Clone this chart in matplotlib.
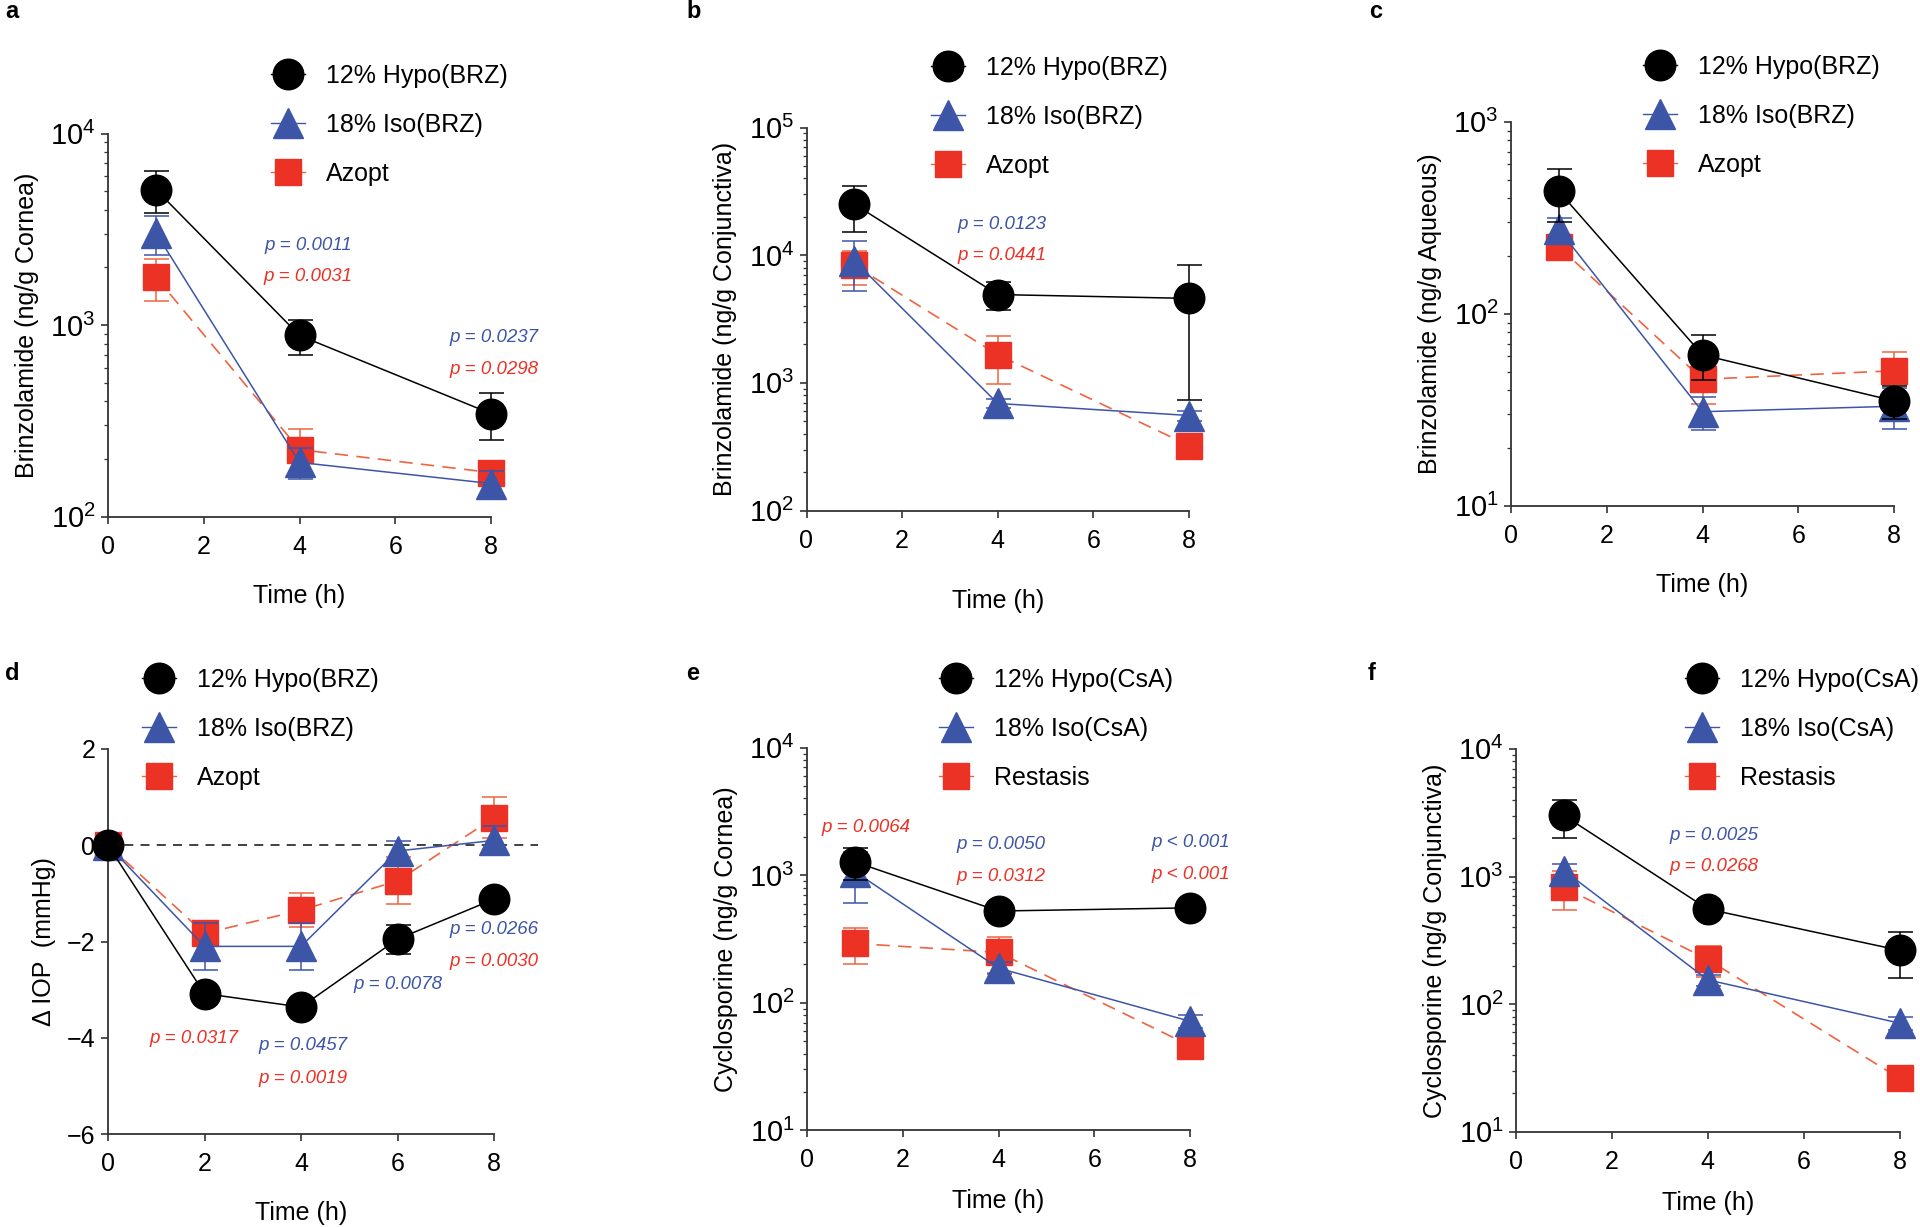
import matplotlib
matplotlib.use("Agg")
import matplotlib.pyplot as plt
from matplotlib.lines import Line2D

plt.rcParams['font.family'] = ['Liberation Sans', 'DejaVu Sans']
plt.rcParams['mathtext.fontset'] = 'custom'
plt.rcParams['mathtext.rm'] = 'Liberation Sans'

# ---- data ----
t3 = [1, 4, 8]
t5 = [0, 2, 4, 6, 8]

# a: cornea, brinzolamide
a_hypo = [5100, 883, 345];    a_hypo_err = [1250, 185, 95]
a_iso = [3030, 192, 149];     a_iso_err = [700, 35, 25]
a_azopt = [1780, 224, 170];   a_azopt_err = [440, 62, 20]

# b: conjunctiva, brinzolamide
b_hypo = [25100, 4920, 4590]; b_hypo_err = [10000, 1230, 3860]
b_iso = [9060, 690, 555];     b_iso_err = [3800, 60, 50]
b_azopt = [8330, 1660, 323];  b_azopt_err = [2500, 680, 30]

# c: aqueous, brinzolamide
c_hypo = [434, 61.1, 35.2];   c_hypo_err = [135, 16, 7]
c_iso = [275, 30.9, 33];      c_iso_err = [40, 6, 8]
c_azopt = [223, 45.6, 50.5];  c_azopt_err = [33, 11.6, 12.5]

# d: delta IOP
d_hypo = [0, -3.08, -3.36, -1.95, -1.12];  d_hypo_err = [0, 0.1, 0.1, 0.3, 0.1]
d_iso = [0, -2.10, -2.10, -0.12, 0.10];    d_iso_err = [0, 0.49, 0.49, 0.2, 0.3]
d_azopt = [0, -1.83, -1.35, -0.74, 0.57];  d_azopt_err = [0.1, 0.26, 0.35, 0.49, 0.43]

# e: cornea, cyclosporine
e_hypo = [1273, 524, 555];    e_hypo_err = [360, 40, 40]
e_iso = [1066, 187, 71.6];    e_iso_err = [460, 20, 8]
e_rest = [292, 248, 46.1];    e_rest_err = [91, 77, 5]

# f: conjunctiva, cyclosporine
f_hypo = [3010, 556, 264];    f_hypo_err = [990, 50, 104]
f_iso = [1114, 155, 71];      f_iso_err = [150, 15, 8]
f_rest = [822, 224, 26.2];    f_rest_err = [280, 60, 3]

brz_labels = ["12% Hypo(BRZ)", "18% Iso(BRZ)", "Azopt"]
csa_labels = ["12% Hypo(CsA)", "18% Iso(CsA)", "Restasis"]

BLACK = "black"
BLUE = "#3d55a7"
RED = "#ec3225"
RED_LINE = "#ef6440"

W, H = 1920, 1227
fig = plt.figure(figsize=(W / 100, H / 100), dpi=100)


def px_axes(left, top, right, bottom):
    return fig.add_axes([left / W, 1 - bottom / H, (right - left) / W, (bottom - top) / H])


def draw(ax, t, hypo, hypo_err, iso, iso_err, ref, ref_err):
    ax.errorbar(t, ref, yerr=ref_err, color=RED_LINE, ls=(0, (8, 5)), lw=1.2,
                marker='s', ms=19, mfc=RED, mec=RED, ecolor=RED_LINE, elinewidth=1.1,
                capsize=9, capthick=1.1, zorder=3, clip_on=False)
    ax.errorbar(t, iso, yerr=iso_err, color=BLUE, lw=1.1,
                marker='^', ms=21, mfc=BLUE, mec=BLUE, ecolor=BLUE, elinewidth=1.1,
                capsize=9, capthick=1.1, zorder=4, clip_on=False)
    ax.errorbar(t, hypo, yerr=hypo_err, color=BLACK, lw=1.1,
                marker='o', ms=22, mfc=BLACK, mec=BLACK, ecolor=BLACK, elinewidth=1.1,
                capsize=9, capthick=1.1, zorder=5, clip_on=False)


def style(ax, ylabel, log=True, ylim=None, xpad=18):
    for s in ['top', 'right']:
        ax.spines[s].set_visible(False)
    for s in ['left', 'bottom']:
        ax.spines[s].set_linewidth(1.3)
        ax.spines[s].set_color('#333333')
    if log:
        ax.set_yscale('log')
    ax.set_ylim(*ylim)
    ax.set_xlim(0, 8)
    ax.set_xticks([0, 2, 4, 6, 8])
    ax.tick_params(axis='both', which='major', direction='out', length=5, width=1.2,
                   labelsize=18, colors='#333333', labelcolor='black')
    ax.tick_params(axis='x', pad=8)
    ax.tick_params(axis='y', pad=4)
    if log:
        ax.tick_params(axis='y', which='major', labelsize=21)
    ax.tick_params(axis='y', which='minor', length=3, width=0.9, colors='#333333')
    ax.set_xlabel("Time (h)", fontsize=18, labelpad=xpad)
    ax.set_ylabel(ylabel, fontsize=18, labelpad=8)


def legend(ax, labels, x, y):
    handles = [
        Line2D([], [], color=BLACK, lw=1, marker='o', ms=22, mfc=BLACK, mec=BLACK),
        Line2D([], [], color=BLUE, lw=1, marker='^', ms=21, mfc=BLUE, mec=BLUE),
        Line2D([], [], color=RED_LINE, lw=1, marker='s', ms=19, mfc=RED, mec=RED),
    ]
    ax.legend(handles, labels, loc='upper left', bbox_to_anchor=(x / W, 1 - y / H),
              bbox_transform=fig.transFigure, frameon=False, fontsize=18,
              handlelength=1.35, handletextpad=0.85, labelspacing=1.0,
              borderpad=0, borderaxespad=0)


def pval(ax, x, y, text, color):
    ax.text(x, y, text, transform=ax.transAxes, ha='center', va='center',
            fontsize=13.5, style='italic', color=color)


# a
ax = px_axes(108, 133.5, 491, 516.7)
draw(ax, t3, a_hypo, a_hypo_err, a_iso, a_iso_err, a_azopt, a_azopt_err)
style(ax, "Brinzolamide (ng/g Cornea)", ylim=(1e2, 1e4))
legend(ax, brz_labels, 271, 64)
pval(ax, 0.523, 0.709, "p = 0.0011", BLUE)
pval(ax, 0.523, 0.627, "p = 0.0031", RED)
pval(ax, 1.009, 0.467, "p = 0.0237", BLUE)
pval(ax, 1.009, 0.384, "p = 0.0298", RED)

# b
ax = px_axes(806.5, 127.6, 1189, 510.5)
draw(ax, t3, b_hypo, b_hypo_err, b_iso, b_iso_err, b_azopt, b_azopt_err)
style(ax, "Brinzolamide (ng/g Conjunctiva)", ylim=(1e2, 1e5), xpad=26)
legend(ax, brz_labels, 931, 56)
pval(ax, 0.512, 0.747, "p = 0.0123", BLUE)
pval(ax, 0.512, 0.665, "p = 0.0441", RED)

# c
ax = px_axes(1511, 121.8, 1894, 505.8)
draw(ax, t3, c_hypo, c_hypo_err, c_iso, c_iso_err, c_azopt, c_azopt_err)
style(ax, "Brinzolamide (ng/g Aqueous)", ylim=(1e1, 1e3))
legend(ax, brz_labels, 1643, 55)

# d
ax = px_axes(108, 748.9, 494, 1134.2)
ax.axhline(0, xmin=0, xmax=1.115, color='#333333', lw=1.3, ls=(0, (5, 4)),
           zorder=1, clip_on=False)
draw(ax, t5, d_hypo, d_hypo_err, d_iso, d_iso_err, d_azopt, d_azopt_err)
style(ax, "Δ IOP  (mmHg)", log=False, ylim=(-6, 2))
ax.set_yticks([-6, -4, -2, 0, 2])
legend(ax, brz_labels, 142, 668)
pval(ax, 0.224, 0.249, "p = 0.0317", RED)
pval(ax, 0.505, 0.229, "p = 0.0457", BLUE)
pval(ax, 0.505, 0.145, "p = 0.0019", RED)
pval(ax, 0.751, 0.388, "p = 0.0078", BLUE)
pval(ax, 1.0, 0.531, "p = 0.0266", BLUE)
pval(ax, 1.0, 0.448, "p = 0.0030", RED)

# e
ax = px_axes(807, 747.7, 1190, 1130.3)
draw(ax, t3, e_hypo, e_hypo_err, e_iso, e_iso_err, e_rest, e_rest_err)
style(ax, "Cyclosporine (ng/g Cornea)", ylim=(1e1, 1e4), xpad=12)
legend(ax, csa_labels, 939, 668)
pval(ax, 0.153, 0.791, "p = 0.0064", RED)
pval(ax, 0.507, 0.746, "p = 0.0050", BLUE)
pval(ax, 0.507, 0.663, "p = 0.0312", RED)
pval(ax, 1.003, 0.751, "p < 0.001", BLUE)
pval(ax, 1.003, 0.668, "p < 0.001", RED)

# f
ax = px_axes(1516, 748.9, 1899.6, 1131.8)
draw(ax, t3, f_hypo, f_hypo_err, f_iso, f_iso_err, f_rest, f_rest_err)
style(ax, "Cyclosporine (ng/g Conjunctiva)", ylim=(1e1, 1e4), xpad=12)
legend(ax, csa_labels, 1685, 668)
pval(ax, 0.516, 0.775, "p = 0.0025", BLUE)
pval(ax, 0.516, 0.693, "p = 0.0268", RED)

# panel letters
for letter, x, y in [("a", 5, 12), ("b", 686, 12), ("c", 1369, 12),
                     ("d", 5, 673), ("e", 686, 673), ("f", 1368, 673)]:
    fig.text(x / W, 1 - y / H, letter, fontsize=17, fontweight='bold', va='center', ha='left')

fig.savefig("out.png", dpi=100)
